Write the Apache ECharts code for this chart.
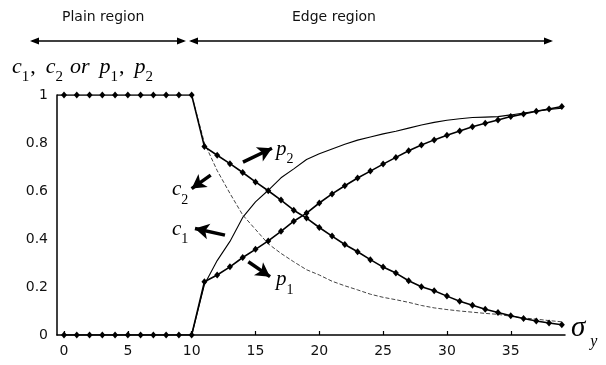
<!DOCTYPE html>
<html><head><meta charset="utf-8">
<script src="https://cdn.jsdelivr.net/npm/echarts@6/dist/echarts.min.js"></script>
<style>html,body{margin:0;padding:0;background:#fff}#c{width:606px;height:365px}</style>
</head><body><div id="c"></div>
<script>
// ---- data ----
const xValues = [0,1,2,3,4,5,6,7,8,9,10,11,12,13,14,15,16,17,18,19,20,21,22,23,24,25,26,27,28,29,30,31,32,33,34,35,36,37,38,39];
const xTickValues = [0,5,10,15,20,25,30,35];
// thick line with diamonds, falling
const markedFalling = [1,1,1,1,1,1,1,1,1,1,1,
  0.785,0.749,0.714,0.677,0.638,0.601,0.562,0.520,0.487,0.448,0.412,0.377,0.347,0.314,0.283,0.258,0.226,0.201,0.184,0.162,0.141,0.124,0.107,0.094,0.080,0.069,0.058,0.050,0.043];
// thick line with diamonds, rising
const markedRising = [0,0,0,0,0,0,0,0,0,0,0,
  0.222,0.250,0.284,0.323,0.357,0.392,0.432,0.474,0.508,0.550,0.588,0.622,0.654,0.683,0.712,0.740,0.768,0.792,0.813,0.832,0.850,0.868,0.882,0.896,0.910,0.921,0.932,0.942,0.952];
// thin solid line, rising
const thinRising = [null,null,null,null,null,null,null,null,null,null,0,
  0.21,0.31,0.39,0.49,0.555,0.603,0.655,0.692,0.731,0.755,0.775,0.795,0.812,0.825,0.838,0.849,0.862,0.875,0.886,0.895,0.901,0.906,0.908,0.910,0.917,0.925,0.932,0.940,0.945];
// thin dashed line, falling
const thinFalling = [null,null,null,null,null,null,null,null,null,null,1,
  0.80,0.685,0.59,0.50,0.44,0.38,0.34,0.305,0.272,0.250,0.224,0.205,0.188,0.170,0.157,0.147,0.136,0.123,0.113,0.106,0.100,0.095,0.090,0.086,0.078,0.071,0.066,0.060,0.055];

// annotation arrows and labels (data coordinates)
const arrows = [
  [[14.02,0.72],[16.29,0.778]],
  [[11.49,0.666],[10.0,0.61]],
  [[12.61,0.416],[10.26,0.444]],
  [[14.44,0.305],[16.14,0.243]]
];
const labelTexts = [
  {pos:[17.3,0.76], text:'{v|p}{s|2}'},
  {pos:[9.1,0.592], text:'{v|c}{s|2}'},
  {pos:[9.1,0.427], text:'{v|c}{s|1}'},
  {pos:[17.3,0.217], text:'{v|p}{s|1}'}
];

const X_MIN = -0.55, X_MAX = 39.25;
const serif = '"Liberation Serif","DejaVu Serif",serif';
const sans = '"DejaVu Sans",sans-serif';
const rich = {
  v:{fontFamily:serif, fontStyle:'italic', fontSize:21, lineHeight:28, verticalAlign:'top', color:'#000'},
  s:{fontFamily:serif, fontSize:14, lineHeight:28, verticalAlign:'bottom', color:'#000'}
};
const titleRich = {
  v:{fontFamily:serif, fontStyle:'italic', fontSize:22, lineHeight:29, verticalAlign:'top', color:'#000'},
  s:{fontFamily:serif, fontSize:15, lineHeight:29, verticalAlign:'bottom', color:'#000'},
  c:{fontFamily:serif, fontSize:22, lineHeight:29, verticalAlign:'top', color:'#000', padding:[0,10,0,1]},
  o:{fontFamily:serif, fontStyle:'italic', fontSize:22, lineHeight:29, verticalAlign:'top', color:'#000', padding:[0,10,0,7]}
};

const pairs = arr => xValues.map((x,i)=>[x, arr[i]]);
const fallingData = [{value:[X_MIN,1], symbol:'none'}].concat(pairs(markedFalling));

const chart = echarts.init(document.getElementById('c'), null, {renderer:'canvas'});

function arrowHead(x, y, dir){
  const L = 9, H = 3.5;
  return {type:'polygon', shape:{points:[[x,y],[x-dir*L,y-H],[x-dir*L,y+H]]}, style:{fill:'#000'}};
}

chart.setOption({
  animation:false,
  backgroundColor:'#fff',
  grid:{left:57, right:41, top:95, bottom:30},
  xAxis:{
    type:'value', min:X_MIN, max:X_MAX,
    axisLine:{show:true, onZero:false, lineStyle:{color:'#000', width:1.5}},
    axisTick:{show:true, inside:true, length:4, customValues:xTickValues, lineStyle:{color:'#000', width:1.2}},
    axisLabel:{customValues:xTickValues, fontFamily:sans, fontSize:14, color:'#111', margin:9},
    splitLine:{show:false}
  },
  yAxis:{
    type:'value', min:0, max:1, interval:0.2,
    axisLine:{show:true, onZero:false, lineStyle:{color:'#000', width:1.5}},
    axisTick:{show:false},
    axisLabel:{fontFamily:sans, fontSize:14, color:'#111', margin:9},
    splitLine:{show:false}
  },
  series:[
    {type:'line', data:fallingData, symbol:'diamond', symbolSize:[6,7], showSymbol:true,
     lineStyle:{color:'#000', width:1.6}, itemStyle:{color:'#000'}, z:5,
     markLine:{silent:true, symbol:['none','arrow'], symbolSize:[12,14], label:{show:false},
       lineStyle:{color:'#000', width:3.5, type:'solid'},
       data: arrows.map(a=>[{coord:a[0]},{coord:a[1]}])}},
    {type:'line', data:pairs(markedRising), symbol:'diamond', symbolSize:[6,7],
     lineStyle:{color:'#000', width:1.6}, itemStyle:{color:'#000'}, z:5},
    {type:'line', data:pairs(thinRising), symbol:'none', connectNulls:false,
     lineStyle:{color:'#000', width:1.1}, z:4},
    {type:'line', data:pairs(thinFalling), symbol:'none',
     lineStyle:{color:'#444', width:1, type:[4,2]}, z:4},
    {type:'scatter', symbolSize:0, itemStyle:{color:'#000', opacity:1}, z:6, silent:true,
     data:labelTexts.map(l=>({value:l.pos, text:l.text})),
     labelLayout:{hideOverlap:false},
     label:{show:true, position:'inside', color:'#000', opacity:1, formatter:p=>p.data.text, rich:rich}}
  ],
  graphic:[
    {type:'text', left:62, top:10, style:{text:'Plain region', font:'14px '+sans, fill:'#111'}},
    {type:'text', left:292, top:10, style:{text:'Edge region', font:'14px '+sans, fill:'#111'}},
    {type:'line', shape:{x1:32,y1:41,x2:184,y2:41}, style:{stroke:'#000', lineWidth:1.6}},
    arrowHead(30,41,-1), arrowHead(186,41,1),
    {type:'line', shape:{x1:191,y1:41,x2:551,y2:41}, style:{stroke:'#000', lineWidth:1.6}},
    arrowHead(189,41,-1), arrowHead(553,41,1),
    {type:'text', left:12, top:56, style:{text:'{v|c}{s|1}{c|,}{v|c}{s|2}{o|or}{v|p}{s|1}{c|,}{v|p}{s|2}', rich:titleRich}},
    {type:'text', left:571, top:314, style:{text:'{g|σ}{y|y}', rich:{
      g:{fontFamily:serif, fontStyle:'italic', fontSize:29, lineHeight:36, verticalAlign:'top', color:'#000'},
      y:{fontFamily:serif, fontStyle:'italic', fontSize:16, lineHeight:36, verticalAlign:'bottom', color:'#000', padding:[0,0,0,5]}}}}
  ]
});
</script></body></html>
